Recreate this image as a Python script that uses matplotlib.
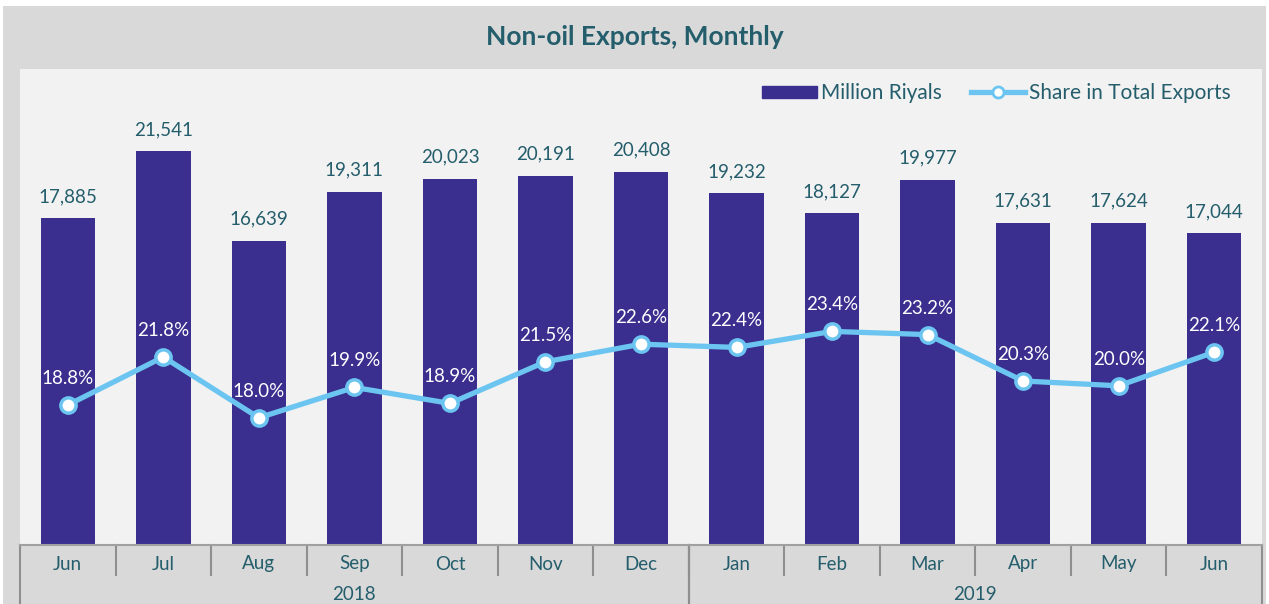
import matplotlib.pyplot as plt
from matplotlib.patches import Rectangle
from matplotlib.lines import Line2D
import matplotlib.transforms as mtransforms

plt.rcParams['font.family'] = ['Lato', 'DejaVu Sans']

# data
months = ['Jun', 'Jul', 'Aug', 'Sep', 'Oct', 'Nov', 'Dec',
          'Jan', 'Feb', 'Mar', 'Apr', 'May', 'Jun']
years = ['2018', '2019']
year_spans = [(0, 6), (7, 12)]
million_riyals = [17885, 21541, 16639, 19311, 20023, 20191, 20408,
                  19232, 18127, 19977, 17631, 17624, 17044]
share_pct = [18.8, 21.8, 18.0, 19.9, 18.9, 21.5, 22.6,
             22.4, 23.4, 23.2, 20.3, 20.0, 22.1]

bar_color = '#3a2e8e'
line_color = '#6cc5f0'
text_color = '#245d6b'
sep_color = '#8f8f8f'

W, H = 1269, 604
fig = plt.figure(figsize=(W / 100, H / 100), dpi=100)
fig.patch.set_facecolor('white')
fig.patches.append(Rectangle((3 / W, 0), (W - 6) / W, (H - 6) / H,
                             transform=fig.transFigure, facecolor='#d9d9d9',
                             edgecolor='none', zorder=-5))

x0, x1, y_top, y_base = 20, 1262, 69, 545
ax = fig.add_axes([x0 / W, (H - y_base) / H, (x1 - x0) / W, (y_base - y_top) / H])
ax.set_facecolor('#f2f2f2')
x = list(range(len(months)))

ax.bar(x, million_riyals, width=0.57, color=bar_color, zorder=2,
       label='Million Riyals')
ax.set_xlim(-0.5, len(months) - 0.5)
ax.set_ylim(0, 26025)
for xi, v in zip(x, million_riyals):
    ax.annotate(f'{v:,}', (xi, v), xytext=(0, 13), textcoords='offset pixels',
                ha='center', va='bottom', fontsize=13.5, color=text_color)

for s in ['top', 'right', 'left']:
    ax.spines[s].set_visible(False)
ax.spines['bottom'].set_color('#a0a0a0')
ax.spines['bottom'].set_linewidth(1.5)
ax.set_yticks([])
ax.set_xticks([])

ax2 = ax.twinx()
ax2.set_ylim(10.05, 39.8)
ax2.plot(x, share_pct, color=line_color, lw=3.8, marker='o', ms=11,
         markerfacecolor='white', markeredgecolor=line_color,
         markeredgewidth=2.5, zorder=3, solid_capstyle='round')
for xi, v in zip(x, share_pct):
    ax2.annotate(f'{v:.1f}%', (xi, v), xytext=(0, 18), textcoords='offset pixels',
                 ha='center', va='bottom', fontsize=13.5, color='white')
for s in ax2.spines.values():
    s.set_visible(False)
ax2.set_yticks([])

# two-level category axis
trans = mtransforms.blended_transform_factory(ax.transData, ax.transAxes)
ph = y_base - y_top
lvl1 = -30 / ph
bottom = -(H - y_base) / ph
for i, m in enumerate(months):
    ax.text(i, -19 / ph, m, transform=trans, ha='center', va='center',
            fontsize=13.5, color=text_color)
for i in range(1, len(months)):
    ax.add_line(Line2D([i - 0.5, i - 0.5], [0, lvl1], transform=trans,
                       color=sep_color, lw=1.5, clip_on=False))
for yr, (a, b) in zip(years, year_spans):
    ax.text((a + b) / 2, -50 / ph, yr, transform=trans, ha='center',
            va='center', fontsize=13.5, color=text_color)
    for edge in (a - 0.5, b + 0.5):
        ax.add_line(Line2D([edge, edge], [0, bottom], transform=trans,
                           color=sep_color, lw=1.5, clip_on=False))

fig.text(0.5, 1 - 37 / H, 'Non-oil Exports, Monthly', ha='center', va='center',
         fontsize=19, fontweight='bold', color=text_color)

handles = [Rectangle((0, 0), 1, 1, color=bar_color),
           Line2D([], [], color=line_color, lw=3.8, marker='o', ms=8,
                  markerfacecolor='white', markeredgecolor=line_color,
                  markeredgewidth=2)]
leg = ax.legend(handles, ['Million Riyals', 'Share in Total Exports'],
                loc='upper right', bbox_to_anchor=(0.99, 1.01), ncol=2,
                frameon=False, fontsize=15, labelcolor=text_color,
                handlelength=2.6, handleheight=0.5, handletextpad=0.2,
                columnspacing=1.4)

fig.savefig('out.png', dpi=100, facecolor=fig.get_facecolor())
